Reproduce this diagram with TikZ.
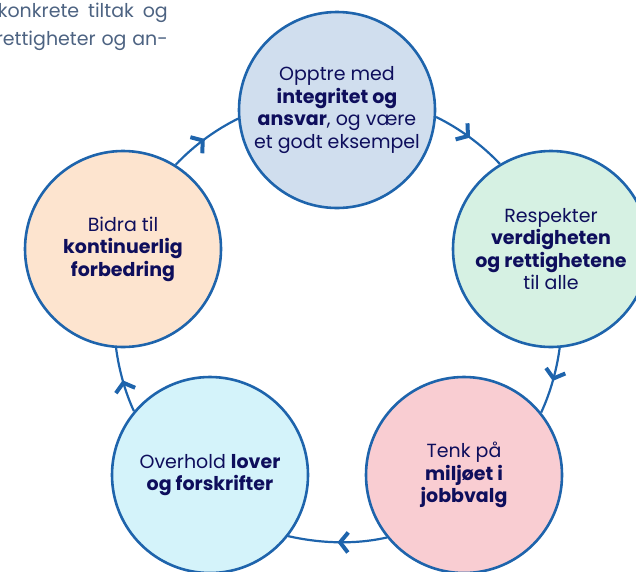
\documentclass[tikz,border=0pt]{standalone}
\usepackage{fontspec}
\setmainfont{Poppins}
\usetikzlibrary{arrows.meta,decorations.markings}

\definecolor{ringblue}{RGB}{30,100,172}
\definecolor{inknavy}{RGB}{14,14,92}
\definecolor{bodygrey}{RGB}{77,99,130}
\definecolor{fillsky}{RGB}{208,222,238}
\definecolor{fillmint}{RGB}{214,241,227}
\definecolor{fillrose}{RGB}{249,205,210}
\definecolor{fillice}{RGB}{212,243,250}
\definecolor{fillpeach}{RGB}{253,228,207}

\begin{document}
\begin{tikzpicture}
  [x=1pt, y=1pt,
   stage/.style={circle, draw=ringblue, line width=2.6pt, minimum size=196pt,
     inner sep=0pt, align=center, text=inknavy,
     font=\fontsize{19}{22.5}\selectfont},
   introline/.style={anchor=base east, inner sep=0pt, text=bodygrey,
     font=\fontsize{19}{27}\selectfont},
   flow/.style={draw=ringblue, line width=2.2pt, looseness=0.85,
     decoration={markings, mark=at position 0.5 with
       {\arrow[ringblue]{Straight Barb[length=8pt, width=20pt, line width=4pt]}}},
     postaction=decorate}]
  \useasboundingbox (0,0) rectangle (636,-571);

  % text running in from the page beside the figure
  \node[introline] (intro1) at (168,-17) {\makebox[170pt][s]{konkrete tiltak og}};
  \node[introline] (intro2) at (168,-45) {\makebox[172pt][s]{rettigheter og an-}};

  % the five circles
  \node[stage, fill=fillsky] (ansvar) at (337,-110)
    {Opptre med\\\textbf{integritet og}\\\textbf{ansvar}, og være\\et godt eksempel};
  \node[stage, fill=fillmint] (respekt) at (551,-249)
    {Respekter\\\textbf{verdigheten}\\\textbf{og rettighetene}\\til alle};
  \node[stage, fill=fillrose] (miljo) at (464,-475)
    {Tenk på\\\textbf{miljøet i}\\\textbf{jobbvalg}};
  \node[stage, fill=fillice] (lover) at (210,-475)
    {Overhold \textbf{lover}\\\textbf{og forskrifter}};
  \node[stage, fill=fillpeach] (forbedring) at (123,-249)
    {Bidra til\\\textbf{kontinuerlig}\\\textbf{forbedring}};

  % arcs round the cycle
  \draw[flow] (ansvar.-4.05) to[out=-26.17, in=133.35] (respekt.121.1);
  \draw[flow] (respekt.-85.4) to[out=-97.61, in=65.23] (miljo.39.6);
  \draw[flow] (miljo.-141.6) to[out=-167.23, in=-12.77] (lover.-38.4);
  \draw[flow] (lover.140.4) to[out=114.77, in=-82.39] (forbedring.-94.6);
  \draw[flow] (forbedring.58.9) to[out=46.65, in=-153.83] (ansvar.-175.95);
\end{tikzpicture}
\end{document}
